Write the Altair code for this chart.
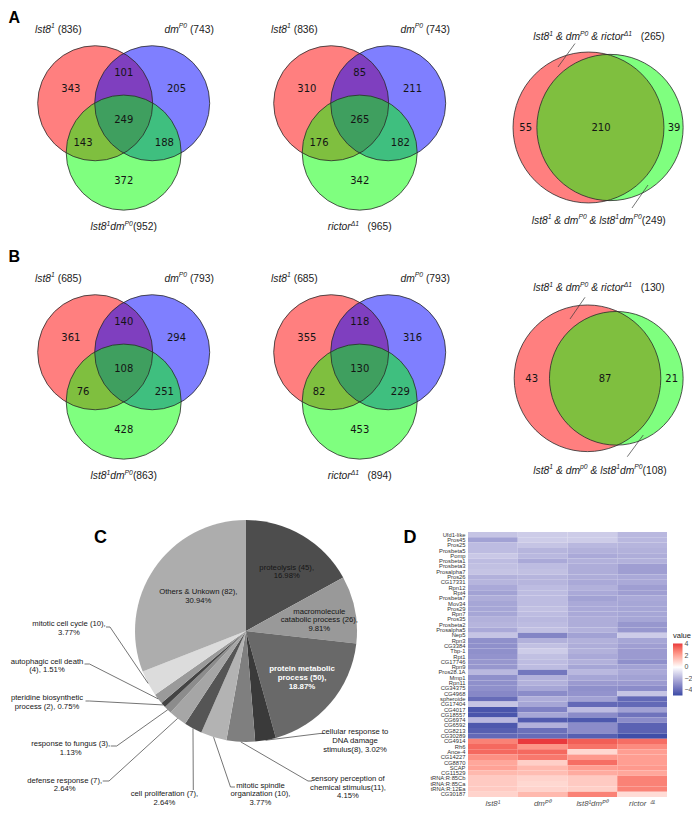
import math
import altair as alt
import pandas as pd

# ============================ DATA ============================
# Three-set Venn regions: [only 1, only 2, 1&2, only 3, 1&3, 2&3, 1&2&3]
venn_A1 = [343, 205, 101, 372, 143, 188, 249]
venn_A2 = [310, 211, 85, 342, 176, 182, 265]
venn_B1 = [361, 294, 140, 428, 76, 251, 108]
venn_B2 = [355, 316, 118, 453, 82, 229, 130]
sets_A1 = ["lst8", "dm", "lst8dm"]
sets_A2 = ["lst8", "dm", "rictor"]
totals_A1 = [836, 743, 952]
totals_A2 = [836, 743, 965]
totals_B1 = [685, 793, 863]
totals_B2 = [685, 793, 894]

# Two-set Venn regions: [only left, only right, both]
venn2_A = [55, 39, 210]
venn2_B = [43, 21, 87]
totals2_A = [265, 249]
totals2_B = [130, 108]

# Panel C: GO terms
go_terms = ["proteolysis", "macromolecule catabolic process", "protein metabolic process",
            "cellular response to DNA damage stimulus", "sensory perception of chemical stimulus",
            "mitotic spindle organization", "cell proliferation", "defense response",
            "response to fungus", "pteridine biosynthetic process", "autophagic cell death",
            "mitotic cell cycle", "Others & Unkown"]
go_counts = [45, 26, 50, 8, 11, 10, 7, 7, 3, 2, 4, 10, 82]

# Panel D: heatmap
genes = ["Ufd1-like", "Pros45", "Pros25", "Prosbeta5", "Pomp", "Prosbeta1", "Prosbeta3",
         "Prosalpha7", "Pros26", "CG17331", "Rpn12", "Rpt4", "Prosbeta7", "Mov34", "Pros29",
         "Rpn7", "Pros35", "Prosbeta2", "Prosalpha5", "Nep5", "Rpn3", "CG3384", "Tbp-1", "Rpt1",
         "CG17746", "Rpn9", "Pros28.1A", "Mmp1", "Rpn11", "CG34375", "CG4968", "spheroide",
         "CG17404", "CG4017", "CG18557", "CG6974", "CG6592", "CG8213", "CG30289", "CG4914",
         "Rh6", "Ance-4", "CG14227", "CG8870", "SCAP", "CG11529", "tRNA:R:85Cb", "tRNA:R:85Ca",
         "tRNA:R:12Ea", "CG30187"]
samples = ["lst8¹", "dmᴾ⁰", "lst8¹dmᴾ⁰", "rictor ᐞ¹"]
val_lst8 = [-1.5, -2.4, -1.7, -1.7, -1.4, -1.7, -1.6, -1.5, -2.0, -1.9, -2.2, -2.4, -2.1, -2.3,
            -2.3, -2.3, -2.0, -1.9, -2.2, -1.5, -2.9, -2.9, -2.9, -2.8, -2.7, -2.7, -1.8, -2.9,
            -2.9, -2.9, -3.1, -3.9, -1.5, -4.6, -4.6, -1.8, -4.5, -4.3, -4.0,
            2.8, 3.3, 3.3, 2.5, 2.0, 2.1, 1.6, 1.2, 1.2, 1.2, 1.0]
val_dm = [-1.3, -1.3, -1.5, -1.9, -1.8, -2.2, -1.7, -1.6, -1.9, -1.9, -1.7, -1.7, -1.7, -1.7,
          -1.6, -1.7, -1.8, -1.7, -1.6, -3.2, -2.0, -1.6, -1.3, -1.6, -1.7, -1.7, -3.6, -2.0,
          -2.0, -2.3, -3.0, -2.1, -2.3, -3.3, -2.3, -4.4, -2.0, -3.8, -3.9,
          4.1, 2.4, 3.3, 3.0, 1.1, 1.6, 1.5, 1.0, 0.9, 1.0, 1.6]
val_lst8dm = [-1.3, -1.3, -1.8, -2.0, -2.2, -2.0, -2.1, -2.1, -2.1, -2.2, -2.0, -2.2, -2.4, -2.2,
              -2.2, -2.2, -2.1, -2.1, -2.0, -2.4, -2.0, -2.1, -2.0, -2.2, -2.0, -2.3, -1.8, -2.3,
              -2.6, -2.9, -2.8, -2.4, -4.0, -1.7, -3.0, -4.5, -3.0, -3.0, -4.3,
              3.5, 3.1, 0.9, 2.3, 3.2, 2.2, 1.9, 1.2, 1.2, 1.1, 2.8]
val_rictor = [-1.8, -1.8, -1.9, -2.0, -2.1, -2.0, -2.5, -2.5, -2.2, -2.2, -2.5, -2.5, -2.2, -2.3,
              -2.3, -2.3, -2.3, -2.7, -2.7, -1.3, -2.3, -2.5, -2.6, -2.6, -2.9, -2.4, -2.2, -2.4,
              -2.6, -3.0, -1.5, -4.0, -4.0, -2.4, -3.7, -3.0, -4.2, -4.2, -4.8,
              3.2, 2.6, 2.2, 2.2, 2.2, 2.3, 2.0, 2.8, 2.8, 2.8, 0.8]
for arr in (val_lst8, val_dm, val_lst8dm, val_rictor):
    assert len(arr) == len(genes)

# ============================ LAYOUT / STYLE ============================
OFF = 8
W_CH, H_CH = 700 - 2 * OFF, 815 - 2 * OFF
XS = alt.Scale(domain=[OFF, 700 - OFF], nice=False, zero=False)
YS = alt.Scale(domain=[OFF, 815 - OFF], nice=False, zero=False, reverse=True)


def X(f):
    return alt.X(f, type="quantitative", scale=XS, axis=None)


def Y(f):
    return alt.Y(f, type="quantitative", scale=YS, axis=None)


SET_COL = ["#ff0000", "#0000ff", "#00ff00"]
LAB_FONT = "Liberation Sans"
FS_LAB, FS_SUP, SUP_DY = 10.3, 6.8, -4.3

# Arial/Liberation advance widths (1/1000 em)
WID = {" ": 278, "&": 667, "(": 333, ")": 333, ",": 278, "l": 222, "s": 500, "t": 278,
       "d": 556, "m": 833, "r": 333, "i": 222, "c": 500, "o": 556, "P": 667, "p": 556, "Δ": 668}


def tw(s, fs):
    return sum(WID.get(c, 556) for c in s) * fs / 1000.0


NAME_SEG = {
    "lst8": [("lst8", "i"), ("1", "s")],
    "dm": [("dm", "i"), ("P0", "s")],
    "lst8dm": [("lst8", "i"), ("1", "s"), ("dm", "i"), ("P0", "s")],
    "rictor": [("rictor", "i"), ("Δ1", "s")],
}
COUNT_GAP = {"lst8": " ", "dm": " ", "lst8dm": "", "rictor": "   "}


def seg_w(segs):
    return sum(tw(s, FS_SUP if k == "s" else FS_LAB) for s, k in segs)


txt_rows = []


def add_rich(segs, x, y):
    for s, k in segs:
        fs = FS_SUP if k == "s" else FS_LAB
        lead = len(s) - len(s.lstrip(" "))
        trail = len(s) - len(s.rstrip(" "))
        core = s.strip(" ")
        x += tw(" " * lead, fs)
        if core:
            txt_rows.append(dict(x=x, y=y, t=core, k=k))
        x += tw(core, fs) + tw(" " * trail, fs)


def set_label(key, n):
    return NAME_SEG[key] + [(COUNT_GAP[key] + f"({n})", "n")]


# ---- three-set Venns ----
R3, SIDE = 57.5, 57.0
D1, D2 = 61.0, 47.0
s3 = math.sqrt(3)
circ_off = [(-SIDE / 2, -SIDE / (2 * s3)), (SIDE / 2, -SIDE / (2 * s3)), (0, SIDE / s3)]
u = [(-s3 / 2, -0.5), (s3 / 2, -0.5), (0, 1)]
reg_off = [(D1 * u[0][0], D1 * u[0][1]), (D1 * u[1][0], D1 * u[1][1]), (-D2 * u[2][0], -D2 * u[2][1]),
           (D1 * u[2][0], D1 * u[2][1]), (-D2 * u[1][0], -D2 * u[1][1]), (-D2 * u[0][0], -D2 * u[0][1]),
           (0, 0)]
V3 = [((123.7, 119.7), sets_A1, venn_A1, totals_A1),
      ((359.7, 119.7), sets_A2, venn_A2, totals_A2),
      ((123.7, 368.7), sets_A1, venn_B1, totals_B1),
      ((359.7, 368.7), sets_A2, venn_B2, totals_B2)]
LAB_POS = [(-65.3, -87.2), (65.5, -87.2), (0.0, 110.3)]

circ_rows, num_rows, rule_rows = [], [], []
for (cx, cy), keys, regs, tots in V3:
    for j in range(3):
        circ_rows.append(dict(x=cx + circ_off[j][0], y=cy + circ_off[j][1],
                              size=(2 * R3) ** 2, col=SET_COL[j]))
    for j, n in enumerate(regs):
        num_rows.append(dict(x=cx + reg_off[j][0], y=cy + reg_off[j][1], t=str(n)))
    for j in range(3):
        segs = set_label(keys[j], tots[j])
        lx = cx + LAB_POS[j][0] - seg_w(segs) / 2
        add_rich(segs, lx, cy + LAB_POS[j][1])

# ---- two-set Venns ----
V2 = [
    dict(regs=venn2_A, tots=totals2_A, cxs=[588.5, 610.0], cy=127.5, k=4.635,
         nx=[525.7, 674.0, 601.0], ny=128.3,
         top=(533.3, 40.2), bot=(531.7, 223.5), dm2="P0",
         lead=[(575, 43.5, 558, 67), (648, 185, 632, 208)]),
    dict(regs=venn2_B, tots=totals2_B, cxs=[587.5, 616.3], cy=378.3, k=6.43,
         nx=[531.7, 671.7, 605.0], ny=379.0,
         top=(533.3, 290.8), bot=(533.3, 473.5), dm2="p0",
         lead=[(585, 297.3, 570, 319), (643.3, 435, 627.3, 456.7)]),
]
for v in V2:
    for j in range(2):
        r = v["k"] * math.sqrt(v["tots"][j])
        circ_rows.append(dict(x=v["cxs"][j], y=v["cy"], size=(2 * r) ** 2,
                              col=SET_COL[0] if j == 0 else SET_COL[2]))
    for j, n in enumerate(v["regs"]):
        num_rows.append(dict(x=v["nx"][j], y=v["ny"], t=str(n)))
    top = [("lst8", "i"), ("1", "s"), (" & dm", "i"), ("P0", "s"), (" & rictor", "i"), ("Δ1", "s"),
           (f"   ({v['tots'][0]})", "n")]
    bot = [("lst8", "i"), ("1", "s"), (" & dm", "i"), (v["dm2"], "s"), (" & lst8", "i"), ("1", "s"),
           ("dm", "i"), ("P0", "s"), (f"({v['tots'][1]})", "n")]
    add_rich(top, *v["top"])
    add_rich(bot, *v["bot"])
    for a in v["lead"]:
        rule_rows.append(dict(x=a[0], y=a[1], x2=a[2], y2=a[3]))

# ---- pie ----
PCX, PCY, PR = 246.0, 631.0, 111.0
PIE_COL = ["#4d4d4d", "#999999", "#696969", "#3a3a3a", "#7f7f7f", "#b3b3b3", "#555555",
           "#a6a6a6", "#8c8c8c", "#444444", "#9a9a9a", "#dcdcdc", "#adadad"]
COUNT_SEP = [" ", " ", " ", "", "", " ", " ", " ", " ", " ", " ", " ", " "]
BREAKS = [[2], [1, 4], [2, 4], [3, 5], [3, 5], [2, 4], [3], [3], [4], [2], [3], [4], [4]]
total = sum(go_counts)


def pie_label(i):
    words = go_terms[i].split(" ")
    cnt = f"({go_counts[i]}),"
    if COUNT_SEP[i] == "":
        words[-1] = words[-1] + cnt
    else:
        words.append(cnt)
    words.append(f"{100 * go_counts[i] / total:.2f}%")
    lines, start = [], 0
    for b in BREAKS[i] + [len(words)]:
        lines.append(" ".join(words[start:b]))
        start = b
    return "\n".join(lines)


# (centre x, first-line y)
LBL_POS = {0: (286.7, 567.7), 12: (198.3, 592.3), 1: (319.3, 611.7), 2: (302.0, 669.3),
           11: (69.0, 624.0), 10: (47.0, 661.7), 9: (47.0, 698.3), 8: (70.7, 744.3),
           7: (64.7, 780.7), 6: (164.5, 794.0), 5: (260.5, 785.5), 4: (348.0, 779.0),
           3: (355.0, 732.3)}
# leader: (anchor x, anchor y, stub end x or None)
LEADER = {11: (110, 627, 106), 10: (89.5, 664, 84.5), 9: (89.5, 701, 85.5), 8: (116.7, 746, 110.7),
          7: (109, 781, 102.7), 6: (193.3, 790, None), 5: (230.5, 787, 235), 4: (308, 781, 312),
          3: (320, 733.5, 323.5)}

pie_rows, plab_rows, plab_white = [], [], []
cum = 0
for i, c in enumerate(go_counts):
    pie_rows.append(dict(i=i, n=c, col=PIE_COL[i]))
    mid = (cum + c / 2) / total * 2 * math.pi
    cum += c
    lx, ly = LBL_POS[i]
    row = dict(x=lx, y=ly, t=pie_label(i))
    (plab_white if i == 2 else plab_rows).append(row)
    if i in LEADER:
        ax, ay, sx = LEADER[i]
        px, py = PCX + PR * math.sin(mid), PCY - PR * math.cos(mid)
        rule_rows.append(dict(x=ax, y=ay, x2=px, y2=py))
        if sx is not None:
            rule_rows.append(dict(x=sx, y=ay, x2=ax, y2=ay))

letters = ["A", "B", "C", "D"]
LET_POS = [(8.5, 22.8, 16), (8.5, 262.3, 16), (94.0, 543.0, 18), (403.5, 543.0, 18)]
let_rows = [dict(x=p[0], y=p[1], t=l, s=p[2]) for l, p in zip(letters, LET_POS)]

# ============================ CHART ============================
circ_df = pd.DataFrame(circ_rows)
fills = alt.Chart(circ_df).mark_point(shape="circle", filled=True, opacity=1, fillOpacity=0.5,
                                      strokeWidth=0).encode(
    x=X("x"), y=Y("y"), size=alt.Size("size:Q", scale=None), fill=alt.Fill("col:N", scale=None))
outlines = alt.Chart(circ_df).mark_point(shape="circle", filled=False, opacity=1,
                                         strokeWidth=0.8).encode(
    x=X("x"), y=Y("y"), size=alt.Size("size:Q", scale=None), stroke=alt.value("#2a2a2a"))

nums = alt.Chart(pd.DataFrame(num_rows)).mark_text(
    font="DejaVu Sans", fontSize=10, color="#141414", align="center", baseline="middle").encode(
    x=X("x"), y=Y("y"), text="t:N")

tdf = pd.DataFrame(txt_rows)
lab_i = alt.Chart(tdf[tdf.k == "i"]).mark_text(
    font=LAB_FONT, fontSize=FS_LAB, fontStyle="italic", color="#222222", align="left",
    baseline="alphabetic").encode(x=X("x"), y=Y("y"), text="t:N")
lab_n = alt.Chart(tdf[tdf.k == "n"]).mark_text(
    font=LAB_FONT, fontSize=FS_LAB, color="#222222", align="left",
    baseline="alphabetic").encode(x=X("x"), y=Y("y"), text="t:N")
lab_s = alt.Chart(tdf[tdf.k == "s"]).mark_text(
    font=LAB_FONT, fontSize=FS_SUP, fontStyle="italic", color="#222222", align="left",
    baseline="alphabetic", dy=SUP_DY).encode(x=X("x"), y=Y("y"), text="t:N")

rules = alt.Chart(pd.DataFrame(rule_rows)).mark_rule(color="#3a3a3a", strokeWidth=0.7).encode(
    x=X("x"), y=Y("y"), x2="x2:Q", y2="y2:Q")

pie = alt.Chart(pd.DataFrame(pie_rows)).mark_arc(radius=PR).encode(
    x=alt.XDatum(PCX, type="quantitative", scale=XS, axis=None),
    y=alt.YDatum(PCY, type="quantitative", scale=YS, axis=None),
    theta=alt.Theta("n:Q", stack=True),
    order=alt.Order("i:Q", sort="ascending"),
    fill=alt.Fill("col:N", scale=None))

plab = alt.Chart(pd.DataFrame(plab_rows)).mark_text(
    font=LAB_FONT, fontSize=7.7, lineHeight=8.7, lineBreak="\n", color="#151515",
    align="center", baseline="middle").encode(x=X("x"), y=Y("y"), text="t:N")
plab_w = alt.Chart(pd.DataFrame(plab_white)).mark_text(
    font=LAB_FONT, fontSize=7.9, lineHeight=8.9, lineBreak="\n", color="#ffffff", fontWeight="bold",
    align="center", baseline="middle").encode(x=X("x"), y=Y("y"), text="t:N")

lets = alt.Chart(pd.DataFrame(let_rows)).mark_text(
    font=LAB_FONT, fontWeight="bold", color="#000000", align="left", baseline="alphabetic").encode(
    x=X("x"), y=Y("y"), text="t:N", size=alt.Size("s:Q", scale=None))

base = alt.layer(fills, outlines, pie, rules, nums, lab_i, lab_n, lab_s, plab, plab_w, lets)

hm_rows = []
for s, vals in zip(samples, [val_lst8, val_dm, val_lst8dm, val_rictor]):
    for g, v in zip(genes, vals):
        hm_rows.append(dict(sample=s, gene=g, v=v))

HM_X0, HM_X1 = 468 - OFF, 667 - OFF
HM_Y0, HM_Y1 = 532 - OFF, 797 - OFF
heat = alt.Chart(pd.DataFrame(hm_rows)).mark_rect().encode(
    x=alt.X("sample:N", sort=samples,
            scale=alt.Scale(range=[HM_X0, HM_X1], paddingInner=0, paddingOuter=0),
            axis=alt.Axis(orient="bottom", offset=HM_Y1 - H_CH, title=None, labelAngle=0,
                          domain=False, ticks=False, labelFont=LAB_FONT, labelFontStyle="italic",
                          labelFontSize=7.8, labelColor="#4d4d4d", labelPadding=2)),
    y=alt.Y("gene:N", sort=genes,
            scale=alt.Scale(range=[HM_Y0, HM_Y1], paddingInner=0, paddingOuter=0),
            axis=alt.Axis(orient="left", offset=-HM_X0, title=None, domain=False, ticks=False,
                          labelFont=LAB_FONT, labelFontSize=5.8, labelColor="#333333",
                          labelPadding=3, labelOverlap=False)),
    color=alt.Color("v:Q",
                    scale=alt.Scale(domain=[-4.9, 0, 4.1],
                                    range=["#3a4ba6", "#ffffff", "#ea393d"], interpolate="lab"),
                    legend=alt.Legend(title="value", orient="none", legendX=665, legendY=624,
                                      direction="vertical", gradientLength=52,
                                      gradientThickness=9.5, values=[4, 2, 0, -2, -4],
                                      labelFont=LAB_FONT, labelFontSize=7, labelColor="#4d4d4d",
                                      titleFont=LAB_FONT, titleFontSize=7.5,
                                      titleFontWeight="normal", titleColor="#1a1a1a",
                                      titlePadding=4, padding=0, gradientStrokeWidth=0,
                                      labelOffset=2)))

chart = alt.layer(base, heat).resolve_scale(x="independent", y="independent").properties(
    width=W_CH, height=H_CH, autosize=alt.AutoSizeParams(type="none"),
    padding={"left": 0, "top": 0, "right": 0, "bottom": 0}
).configure_view(stroke=None)

chart.save("out.html", embed_options={"renderer": "svg", "actions": False})
